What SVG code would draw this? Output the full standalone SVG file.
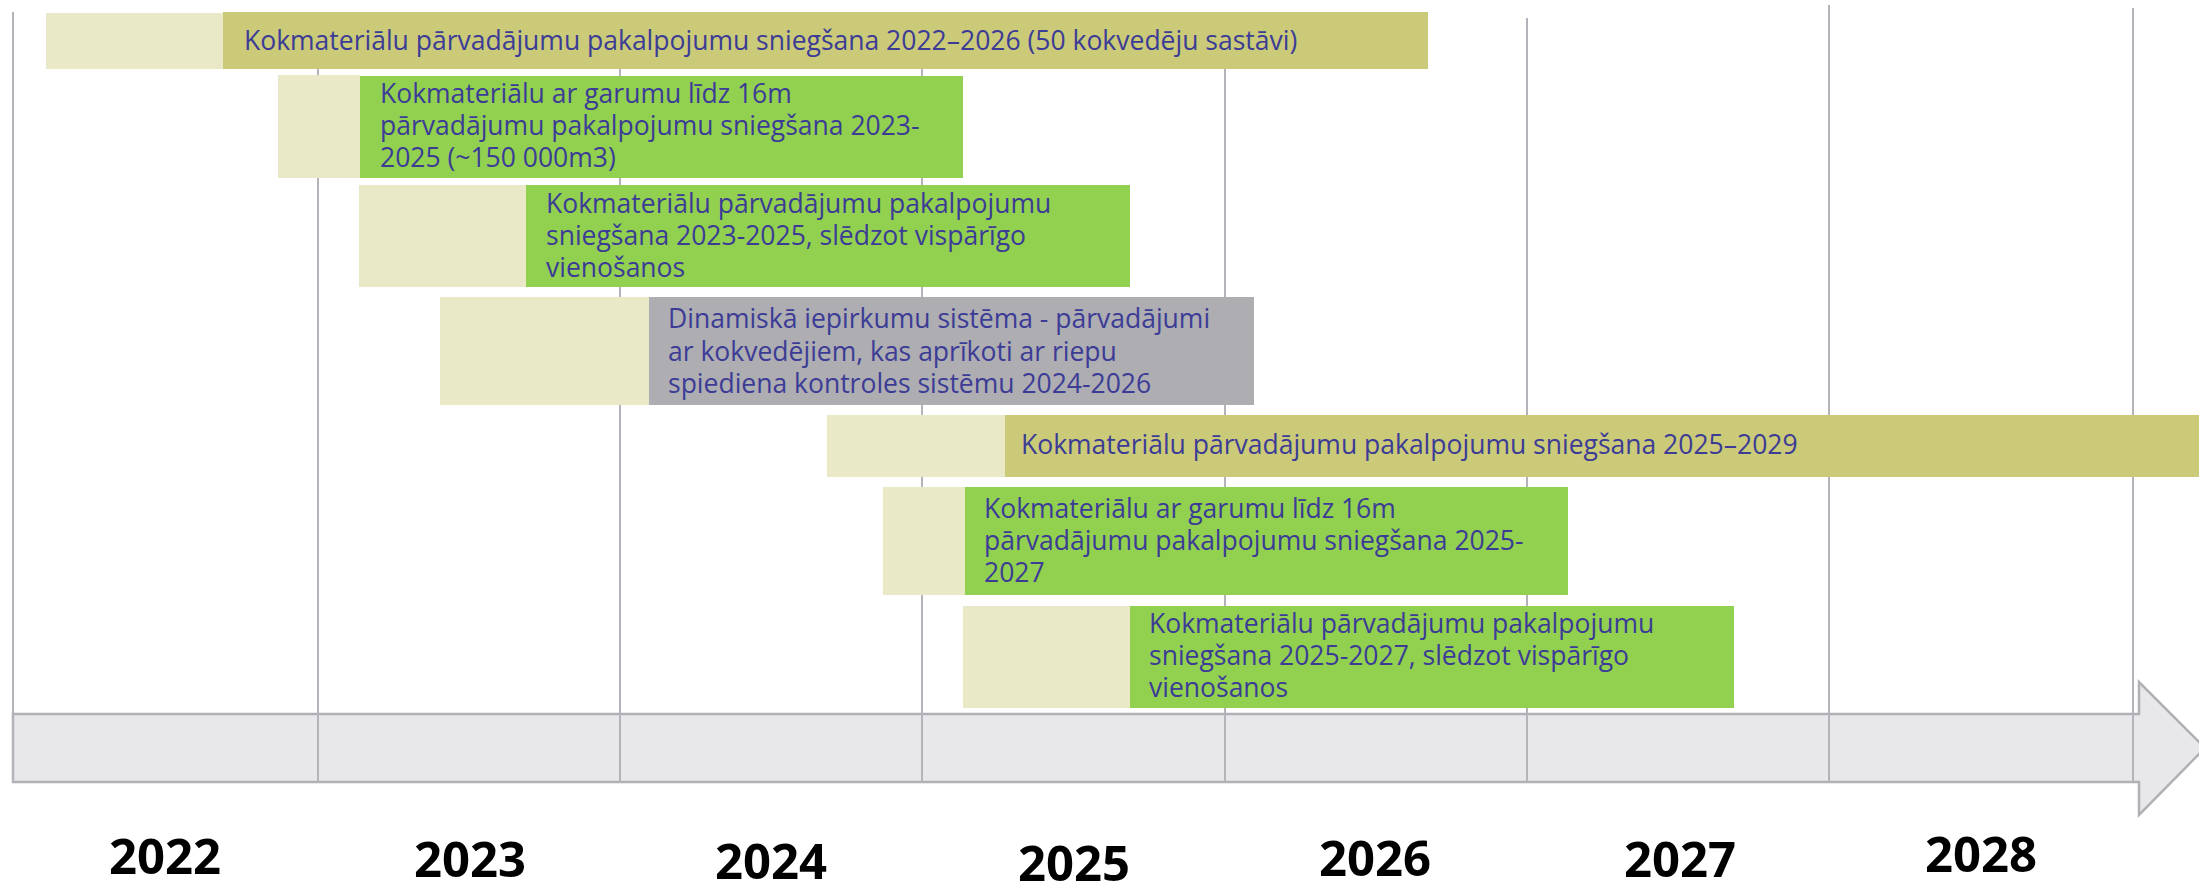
<svg xmlns="http://www.w3.org/2000/svg" width="2199" height="881" viewBox="0 0 2199 881">
<style>
.grid{stroke:#B4B3B9;stroke-width:2;fill:none}
.axis{fill:#E8E8EA;stroke:#B1B0B6;stroke-width:2.5}
.pre{fill:#E9E9C8}
.olive{fill:#CBCA78}
.green{fill:#92D050}
.gray{fill:#ADADB2}
.t{font-family:"Open Sans","Noto Sans","DejaVu Sans",sans-serif;font-size:26.5px;fill:#3C3C96}
.yr{font-family:"Open Sans","Noto Sans","DejaVu Sans",sans-serif;font-size:49px;font-weight:bold;fill:#000;text-anchor:middle}
</style>
<rect width="2199" height="881" fill="#FFFFFF"/>
<g id="timeline-axis">
<polygon class="axis" points="13,714 2139,714 2139,682 2205,748 2139,815 2139,782 13,782"/>
</g>
<g id="gridlines">
<line class="grid" x1="13" y1="12" x2="13" y2="783"/>
<line class="grid" x1="318" y1="12" x2="318" y2="783"/>
<line class="grid" x1="620" y1="12" x2="620" y2="783"/>
<line class="grid" x1="922" y1="12" x2="922" y2="783"/>
<line class="grid" x1="1225" y1="12" x2="1225" y2="783"/>
<line class="grid" x1="1527" y1="18" x2="1527" y2="783"/>
<line class="grid" x1="1829" y1="5" x2="1829" y2="783"/>
<line class="grid" x1="2133" y1="8" x2="2133" y2="782"/>
</g>
<g id="bar1">
<rect class="pre" x="46" y="13" width="177" height="56"/>
<rect class="olive" x="223" y="12" width="1205" height="57"/>
<text class="t" x="244" y="50">Kokmateriālu pārvadājumu pakalpojumu sniegšana 2022–2026 (50 kokvedēju sastāvi)</text>
</g>
<g id="bar2">
<rect class="pre" x="278" y="75" width="82" height="103"/>
<rect class="green" x="360" y="76" width="603" height="102"/>
<text class="t" x="380" y="103">Kokmateriālu ar garumu līdz 16m</text>
<text class="t" x="380" y="135">pārvadājumu pakalpojumu sniegšana 2023-</text>
<text class="t" x="380" y="167">2025 (~150 000m3)</text>
</g>
<g id="bar3">
<rect class="pre" x="359" y="185" width="167" height="102"/>
<rect class="green" x="526" y="185" width="604" height="102"/>
<text class="t" x="546" y="213">Kokmateriālu pārvadājumu pakalpojumu</text>
<text class="t" x="546" y="245">sniegšana 2023-2025, slēdzot vispārīgo</text>
<text class="t" x="546" y="277">vienošanos</text>
</g>
<g id="bar4">
<rect class="pre" x="440" y="297" width="209" height="108"/>
<rect class="gray" x="649" y="297" width="605" height="108"/>
<text class="t" x="668" y="328">Dinamiskā iepirkumu sistēma - pārvadājumi</text>
<text class="t" x="668" y="361">ar kokvedējiem, kas aprīkoti ar riepu</text>
<text class="t" x="668" y="393">spiediena kontroles sistēmu 2024-2026</text>
</g>
<g id="bar5">
<rect class="pre" x="827" y="415" width="178" height="62"/>
<rect class="olive" x="1005" y="415" width="1194" height="62"/>
<text class="t" x="1021" y="454">Kokmateriālu pārvadājumu pakalpojumu sniegšana 2025–2029</text>
</g>
<g id="bar6">
<rect class="pre" x="883" y="487" width="82" height="108"/>
<rect class="green" x="965" y="487" width="603" height="108"/>
<text class="t" x="984" y="518">Kokmateriālu ar garumu līdz 16m</text>
<text class="t" x="984" y="550">pārvadājumu pakalpojumu sniegšana 2025-</text>
<text class="t" x="984" y="582">2027</text>
</g>
<g id="bar7">
<rect class="pre" x="963" y="606" width="167" height="102"/>
<rect class="green" x="1130" y="606" width="604" height="102"/>
<text class="t" x="1149" y="633">Kokmateriālu pārvadājumu pakalpojumu</text>
<text class="t" x="1149" y="665">sniegšana 2025-2027, slēdzot vispārīgo</text>
<text class="t" x="1149" y="697">vienošanos</text>
</g>
<g id="year-labels">
<text class="yr" x="165" y="874">2022</text>
<text class="yr" x="470" y="877">2023</text>
<text class="yr" x="771" y="879">2024</text>
<text class="yr" x="1074" y="881">2025</text>
<text class="yr" x="1375" y="876">2026</text>
<text class="yr" x="1680" y="877">2027</text>
<text class="yr" x="1981" y="872">2028</text>
</g>
</svg>
